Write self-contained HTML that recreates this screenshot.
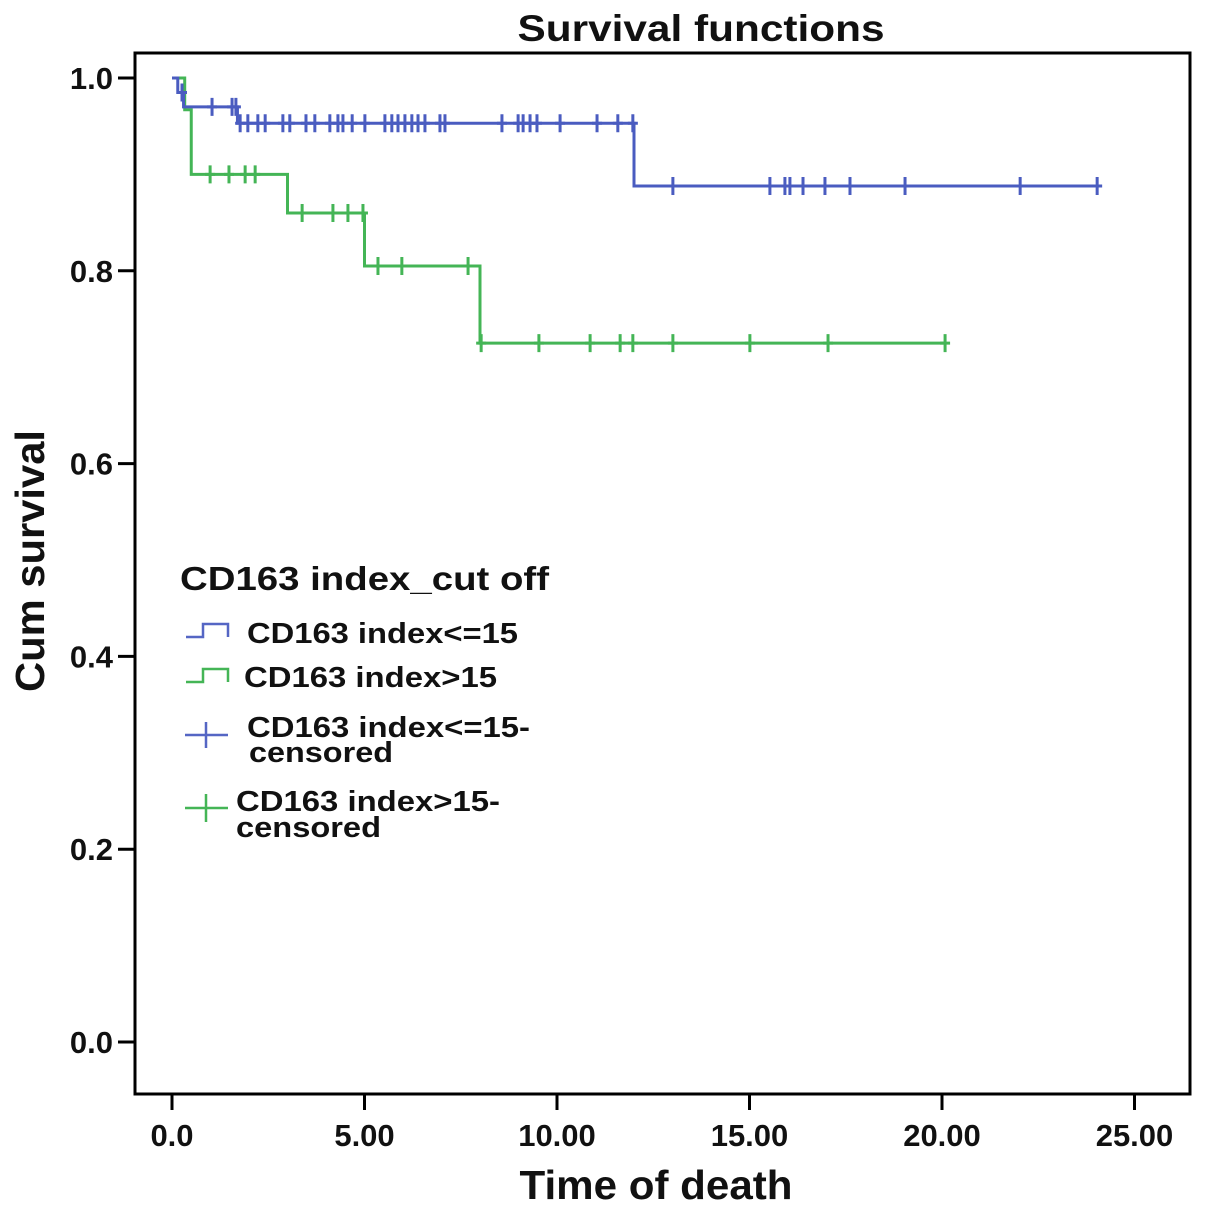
<!DOCTYPE html>
<html><head><meta charset="utf-8"><style>
body{margin:0;background:#fff;}
svg text{font-family:"Liberation Sans",Arial,sans-serif;font-weight:bold;}
</style></head><body>
<svg id="chart" width="1205" height="1212" viewBox="0 0 1205 1212" xmlns="http://www.w3.org/2000/svg">
<rect width="1205" height="1212" fill="#fff"/>
<text x="701" y="41" font-size="37" text-anchor="middle" textLength="367" lengthAdjust="spacingAndGlyphs" fill="#111">Survival functions</text>
<rect x="135" y="53" width="1055" height="1041" fill="none" stroke="#000" stroke-width="3"/>
<g id="axes"></g>
<g id="series"></g>
<text x="656" y="1199" font-size="41" text-anchor="middle" textLength="273" lengthAdjust="spacingAndGlyphs" fill="#111">Time of death</text>
<text transform="translate(44,561) rotate(-90)" font-size="41" text-anchor="middle" textLength="262" lengthAdjust="spacingAndGlyphs" fill="#111">Cum survival</text>
<g>
<text x="180" y="590" font-size="33" textLength="369" lengthAdjust="spacingAndGlyphs" fill="#111">CD163 index_cut off</text>
<path d="M186 637 H203 V624 H228 V637" fill="none" stroke="#5566c4" stroke-width="2.5"/>
<text x="247" y="643" font-size="29" textLength="271" lengthAdjust="spacingAndGlyphs" fill="#111">CD163 index&lt;=15</text>
<path d="M186 682 H203 V669 H228 V682" fill="none" stroke="#44b556" stroke-width="2.5"/>
<text x="244" y="687" font-size="29" textLength="253" lengthAdjust="spacingAndGlyphs" fill="#111">CD163 index&gt;15</text>
<path d="M185 735 H228 M206 722 V748" stroke="#5566c4" stroke-width="2.5"/>
<text x="247" y="737" font-size="29" textLength="283" lengthAdjust="spacingAndGlyphs" fill="#111">CD163 index&lt;=15-</text>
<text x="249" y="762" font-size="29" textLength="144" lengthAdjust="spacingAndGlyphs" fill="#111">censored</text>
<path d="M185 808 H228 M206 794 V822" stroke="#44b556" stroke-width="2.5"/>
<text x="236" y="811" font-size="29" textLength="264" lengthAdjust="spacingAndGlyphs" fill="#111">CD163 index&gt;15-</text>
<text x="236" y="837" font-size="29" textLength="145" lengthAdjust="spacingAndGlyphs" fill="#111">censored</text>
</g>
</svg>
<script>
const xTicks=[0,5,10,15,20,25];
const xTickLabels=["0.0","5.00","10.00","15.00","20.00","25.00"];
const yTicks=[0,0.2,0.4,0.6,0.8,1.0];
const yTickLabels=["0.0","0.2","0.4","0.6","0.8","1.0"];
const lowTimes=[0,0.15,0.3,1.7,12];
const lowSurv=[1.0,0.985,0.97,0.953,0.888];
const lowEnd=24.05;
const lowCensorTimes=[0.26,1.04,1.56,1.66,1.77,1.97,2.23,2.42,2.88,3.06,3.48,3.71,4.1,4.31,4.44,4.68,5.01,5.53,5.71,5.87,6.05,6.23,6.39,6.57,6.96,7.09,8.57,8.99,9.12,9.3,9.48,10.08,11.04,11.58,11.97,13.01,15.53,15.92,16.05,16.39,16.96,17.61,19.04,22.03,24.03];
const highTimes=[0,0.33,0.5,3,5,8];
const highSurv=[1.0,0.967,0.90,0.86,0.805,0.725];
const highEnd=20.1;
const highCensorTimes=[0.99,1.48,1.9,2.16,3.38,4.18,4.57,4.96,5.35,5.97,7.69,8.03,9.53,10.86,11.64,11.97,13.01,15.01,17.04,20.08];
const NS="http://www.w3.org/2000/svg";
const xs=t=>172+t*38.5;
const ys=v=>1042-v*964;
function mk(tag,attrs,parent){const e=document.createElementNS(NS,tag);for(const k in attrs)e.setAttribute(k,attrs[k]);parent.appendChild(e);return e;}
const axes=document.getElementById('axes');
xTicks.forEach((t,i)=>{
  const l=mk('line',{x1:xs(t),x2:xs(t),y1:1094,y2:1110,stroke:'#000','stroke-width':3},axes);
  
  
  const tx=mk('text',{x:xs(t),y:1146,'font-size':31,'text-anchor':'middle',fill:'#111'},axes);
  tx.textContent=xTickLabels[i];
  
  
});
yTicks.forEach((v,i)=>{
  const l=mk('line',{x1:118,x2:135,y1:ys(v),y2:ys(v),stroke:'#000','stroke-width':3},axes);
  
  
  const tx=mk('text',{x:113,y:ys(v)+11,'font-size':31,'text-anchor':'end',fill:'#111'},axes);
  tx.textContent=yTickLabels[i];
  
  
});
const series=document.getElementById('series');
function drawSeries(times,surv,end,cens,color,name){
  let d='M'+xs(times[0])+' '+ys(surv[0]);
  for(let i=1;i<times.length;i++){d+=' H'+xs(times[i])+' V'+ys(surv[i]);}
  d+=' H'+xs(end);
  const p=mk('path',{d:d,fill:'none',stroke:color,'stroke-width':3},series);
  
  
  cens.forEach(t=>{
    let s=surv[0];
    for(let i=0;i<times.length;i++){if(times[i]<=t)s=surv[i];}
    const c=mk('path',{d:'M'+(xs(t)-5)+' '+ys(s)+' H'+(xs(t)+5)+' M'+xs(t)+' '+(ys(s)-9)+' V'+(ys(s)+9),stroke:color,'stroke-width':3},series);
    
    
  });
}
drawSeries(highTimes,highSurv,highEnd,highCensorTimes,'#44b556','high-index');
drawSeries(lowTimes,lowSurv,lowEnd,lowCensorTimes,'#4a5cc0','low-index');
</script>
</body></html>
